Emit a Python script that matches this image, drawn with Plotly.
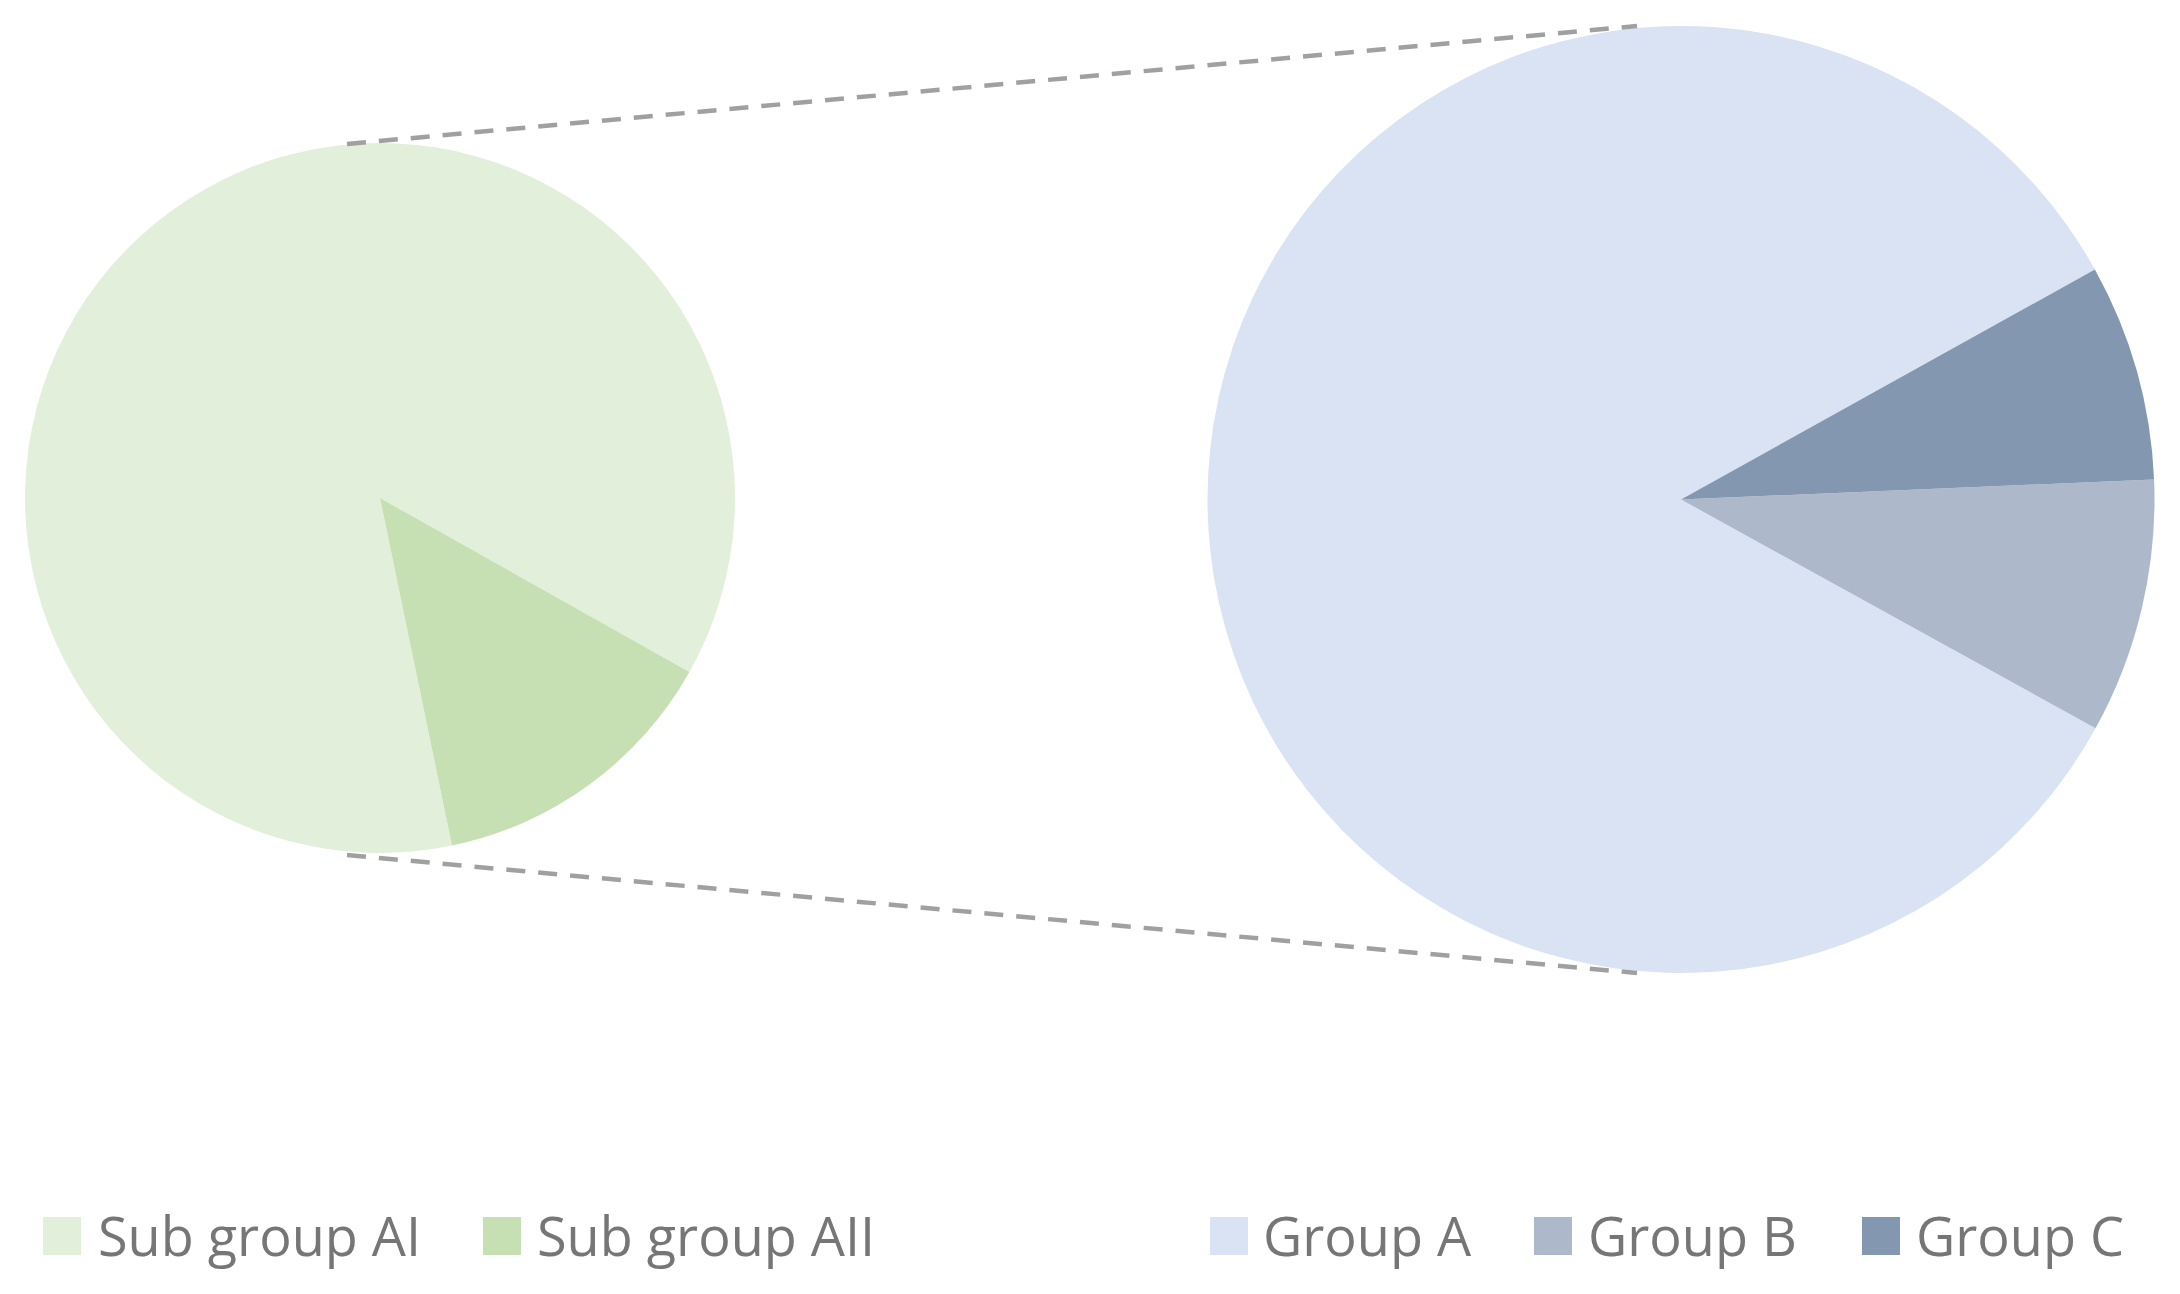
import plotly.graph_objects as go

# canvas size
W = 2180
H = 1294
# the page body has an 8px margin, so pull everything back by that much
OFF = 8

# left pie (breakdown of the small slice)
sub_labels = ["Sub group AI", "Sub group AII"]
sub_values = [86.4, 13.6]
sub_colors = ["#E2EFDA", "#C6E0B4"]

# right pie (main groups)
main_labels = ["Group A", "Group B", "Group C"]
main_values = [83.9, 8.7, 7.4]
main_colors = ["#DAE3F3", "#ADB9CA", "#8497B0"]


def fx(x):
    # pixel x on screen -> paper
    return (x - OFF) / W


def fy(y):
    # pixel y on screen (from top) -> paper
    return 1 - (y - OFF) / H


fig = go.Figure()

fig.add_trace(go.Pie(
    labels=sub_labels, values=sub_values,
    marker=dict(colors=sub_colors, line=dict(width=0)),
    sort=False, direction="counterclockwise", rotation=168.3,
    textinfo="none", hoverinfo="label+percent", showlegend=False,
    domain=dict(x=[fx(25), fx(735)], y=[fy(853), fy(143)]),
))

fig.add_trace(go.Pie(
    labels=main_labels, values=main_values,
    marker=dict(colors=main_colors, line=dict(width=0)),
    sort=False, direction="counterclockwise", rotation=118.9,
    textinfo="none", hoverinfo="label+percent", showlegend=False,
    domain=dict(x=[fx(1207.5), fx(2154.5)], y=[fy(973), fy(26)]),
))

# dashed connector lines between the two pies
for y0, y1 in [(144, 26), (855, 973)]:
    fig.add_shape(type="line", xref="paper", yref="paper",
                  x0=fx(347), y0=fy(y0), x1=fx(1637), y1=fy(y1),
                  line=dict(color="#A0A0A0", width=4.5, dash="19px,13px"))

# legend drawn by hand so the swatches can be as big as in the original
leg_labels = sub_labels + main_labels
leg_colors = sub_colors + main_colors
swatch_x = [43, 483, 1210, 1534, 1862]
text_x = [96, 535, 1261, 1586, 1914]
sw = 38
leg_mid = 1236

for lab, col, sx, tx in zip(leg_labels, leg_colors, swatch_x, text_x):
    fig.add_shape(type="rect", xref="paper", yref="paper",
                  x0=fx(sx), x1=fx(sx + sw),
                  y0=fy(leg_mid + sw / 2), y1=fy(leg_mid - sw / 2),
                  fillcolor=col, line=dict(width=0))
    fig.add_annotation(text=lab, xref="paper", yref="paper",
                       x=fx(tx), y=fy(leg_mid - 1), xanchor="left", yanchor="middle",
                       showarrow=False,
                       font=dict(family="Open Sans", size=54, color="#767676"))

fig.update_layout(
    width=W, height=H,
    margin=dict(l=0, r=0, t=0, b=0),
    paper_bgcolor="white",
    plot_bgcolor="white",
)

fig.write_html("out.html")
